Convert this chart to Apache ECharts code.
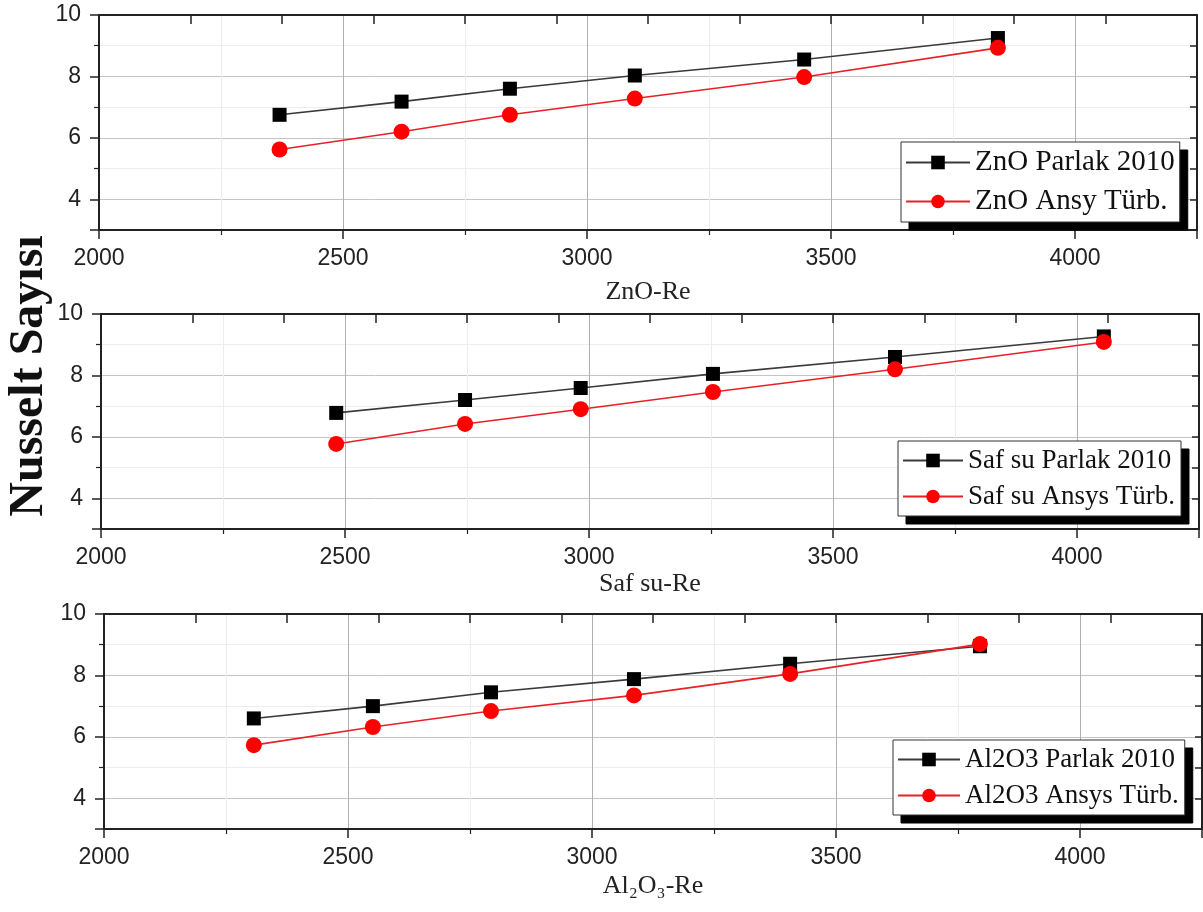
<!DOCTYPE html>
<html>
<head>
<meta charset="utf-8">
<title>Nusselt Sayısı</title>
<script src="https://cdn.jsdelivr.net/npm/echarts@6/dist/echarts.min.js"></script>
<style>
  html, body { margin: 0; padding: 0; background: #fff; }
  #chart { width: 1203px; height: 912px; }
</style>
</head>
<body>
<div id="chart"></div>
<script>
// Reynolds numbers and Nusselt numbers for each fluid
const znoRe = [2370, 2620, 2842, 3098, 3445, 3842];
const znoParlak = [6.75, 7.18, 7.60, 8.03, 8.55, 9.25];
const znoAnsys = [5.62, 6.20, 6.75, 7.28, 7.98, 8.93];

const safRe = [2482, 2746, 2983, 3254, 3627, 4055];
const safParlak = [6.78, 7.20, 7.59, 8.05, 8.60, 9.27];
const safAnsys = [5.77, 6.42, 6.90, 7.46, 8.20, 9.09];

const alRe = [2307, 2551, 2793, 3086, 3406, 3795];
const alParlak = [6.60, 7.00, 7.45, 7.88, 8.38, 8.95];
const alAnsys = [5.73, 6.32, 6.84, 7.35, 8.05, 9.02];

const seriesNames = [
  ['ZnO Parlak 2010', 'ZnO Ansy Türb.'],
  ['Saf su Parlak 2010', 'Saf su Ansys Türb.'],
  ['Al2O3 Parlak 2010', 'Al2O3 Ansys Türb.']
];
const axisTitles = ['ZnO-Re', 'Saf su-Re', 'Al₂O₃-Re'];
const yTitle = 'Nusselt Sayısı';

const SANS = "'Liberation Sans', Arial, sans-serif";
const SERIF = "'Liberation Serif', 'Times New Roman', serif";
const INK = '#222';

const panels = [
  { re: znoRe, a: znoParlak, b: znoAnsys, left: 99, top: 15, nameGap: 49,
    leg: { left: 901, top: 142, font: 29, iconW: 64, gap: 10, pad: [6, 5, 6, 4] } },
  { re: safRe, a: safParlak, b: safAnsys, left: 101, top: 314, nameGap: 42,
    leg: { left: 898, top: 441, font: 27, iconW: 60, gap: 9, pad: [6, 6, 6, 4] } },
  { re: alRe, a: alParlak, b: alAnsys, left: 104, top: 614, nameGap: 44,
    leg: { left: 893, top: 740, font: 27, iconW: 62, gap: 9, pad: [6, 6, 6, 4] } }
];

const plainNumber = v => String(v);

const grid = [], xAxis = [], yAxis = [], series = [], legend = [];

panels.forEach((p, i) => {
  grid.push({ left: p.left, top: p.top, width: 1098, height: 215, containLabel: false });

  // bottom Reynolds axis
  xAxis.push({
    type: 'value', gridIndex: i, position: 'bottom',
    min: 2000, max: 4250, interval: 500,
    name: axisTitles[i], nameLocation: 'middle', nameGap: p.nameGap,
    nameTextStyle: { fontFamily: SERIF, fontSize: 26, color: INK },
    axisLine: { show: true, onZero: false, lineStyle: { color: INK, width: 2 } },
    axisTick: { show: true, inside: false, length: 9, lineStyle: { color: INK, width: 1.5 } },
    minorTick: { show: true, splitNumber: 2, length: 5, lineStyle: { color: INK, width: 1.2 } },
    splitLine: { show: true, lineStyle: { color: '#b0b0b0', width: 1 } },
    minorSplitLine: { show: true, lineStyle: { color: '#ededed', width: 1 } },
    axisLabel: { showMaxLabel: false, margin: 17, fontFamily: SANS, fontSize: 23, color: INK, formatter: plainNumber }
  });
  // top frame axis
  xAxis.push({
    type: 'value', gridIndex: i, position: 'top',
    min: 0, max: 12, interval: 1,
    axisLine: { show: true, onZero: false, lineStyle: { color: INK, width: 2 } },
    axisTick: { show: true, inside: true, length: 9, lineStyle: { color: INK, width: 1.5 } },
    axisLabel: { show: false },
    splitLine: { show: false }
  });

  // left Nusselt axis
  yAxis.push({
    type: 'value', gridIndex: i, position: 'left',
    min: 3, max: 10, splitNumber: 4,
    axisLine: { show: true, onZero: false, lineStyle: { color: INK, width: 2 } },
    axisTick: { show: true, inside: false, length: 9, lineStyle: { color: INK, width: 1.5 } },
    minorTick: { show: true, splitNumber: 2, length: 5, lineStyle: { color: INK, width: 1.2 } },
    splitLine: { show: true, lineStyle: { color: '#c4c4c4', width: 1 } },
    minorSplitLine: { show: true, lineStyle: { color: '#ededed', width: 1 } },
    axisLabel: { showMinLabel: false, margin: 18, fontFamily: SANS, fontSize: 23, color: INK, formatter: plainNumber }
  });
  // right frame axis
  yAxis.push({
    type: 'value', gridIndex: i, position: 'right',
    min: 3, max: 10, interval: 1,
    axisLine: { show: true, onZero: false, lineStyle: { color: INK, width: 2 } },
    axisTick: { show: true, inside: true, length: 7, lineStyle: { color: INK, width: 1.5 } },
    axisLabel: { show: false },
    splitLine: { show: false }
  });

  series.push({
    type: 'line', name: seriesNames[i][0],
    xAxisIndex: 2 * i, yAxisIndex: 2 * i,
    data: p.re.map((x, k) => [x, p.a[k]]),
    symbol: 'rect', symbolSize: 14,
    itemStyle: { color: '#000' },
    lineStyle: { color: '#3a3a3a', width: 1.6 },
    z: 3, animation: false
  });
  series.push({
    type: 'line', name: seriesNames[i][1],
    xAxisIndex: 2 * i, yAxisIndex: 2 * i,
    data: p.re.map((x, k) => [x, p.b[k]]),
    symbol: 'circle', symbolSize: 16,
    itemStyle: { color: '#ff0000' },
    lineStyle: { color: '#e82028', width: 1.6 },
    z: 4, animation: false
  });

  const L = p.leg;
  const legendBase = {
    orient: 'vertical',
    data: seriesNames[i],
    selectedMode: false,
    itemWidth: L.iconW, itemHeight: 17, itemGap: L.gap,
    padding: L.pad,
    textStyle: { fontFamily: SERIF, fontSize: L.font, color: '#111' }
  };
  // solid black drop shadow behind the legend box
  legend.push(Object.assign({}, legendBase, {
    left: L.left + 8, top: L.top + 8, z: 3,
    backgroundColor: '#000', borderColor: '#000', borderWidth: 1,
    itemStyle: { color: '#000' }, lineStyle: { color: '#000' },
    textStyle: Object.assign({}, legendBase.textStyle, { color: '#000' })
  }));
  legend.push(Object.assign({}, legendBase, {
    left: L.left, top: L.top, z: 6,
    backgroundColor: '#fff', borderColor: '#333', borderWidth: 1
  }));
});

const chart = echarts.init(document.getElementById('chart'), null, { renderer: 'canvas' });
chart.setOption({
  backgroundColor: '#fff',
  animation: false,
  grid, xAxis, yAxis, series, legend,
  graphic: [{
    type: 'text', x: 30, y: 376, rotation: Math.PI / 2,
    style: {
      text: yTitle, fontFamily: SERIF, fontSize: 48, fontWeight: 'bold',
      fill: '#111', align: 'center', verticalAlign: 'middle'
    }
  }]
});
</script>
</body>
</html>
